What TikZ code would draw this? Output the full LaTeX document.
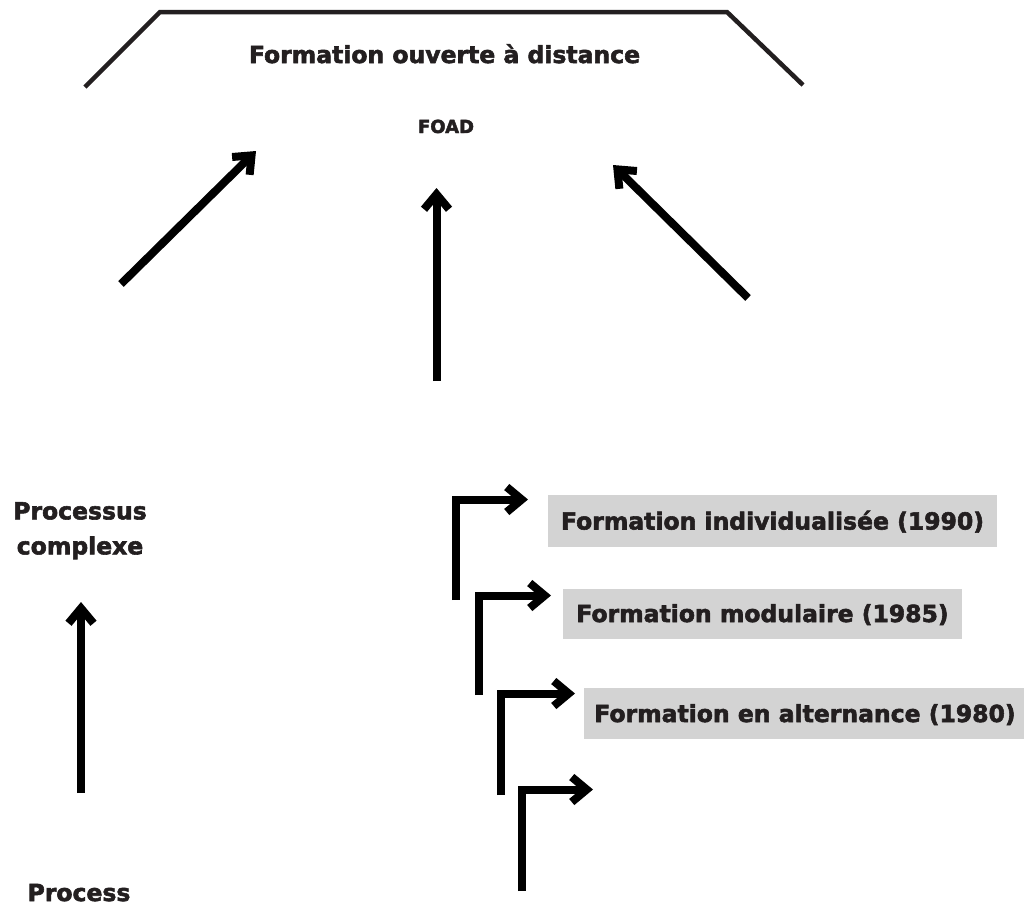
\documentclass[tikz,border=0pt]{standalone}
\usepackage{fontspec}
\setmainfont{DejaVu Sans}
\newfontfamily\heavyfont{DejaVu Sans Bold}[FakeBold=2.4]
\usetikzlibrary{arrows.meta}
\definecolor{ink}{HTML}{231F20}
\definecolor{boxgray}{HTML}{D3D3D3}
\begin{document}
\begin{tikzpicture}[x=1pt,y=-1pt,
  txt/.style={font=\fontsize{23.5}{35}\selectfont\heavyfont, text=ink, inner sep=0pt},
  small/.style={font=\fontsize{18}{20}\selectfont\heavyfont, text=ink, inner sep=0pt},
  arr/.style={line width=8pt, line join=miter, black,
    -{Straight Barb[length=15pt,width=25pt,line join=miter,line cap=butt]}},
  tag/.style={txt, fill=boxgray, text height=17pt, text depth=0pt},
  frame/.style={line width=4.5pt, ink, line join=miter}
]
\useasboundingbox (0,0) rectangle (1024,906);

% top frame
\coordinate (f1) at (85,87);
\coordinate (f2) at (160,12);
\coordinate (f3) at (727,12);
\coordinate (f4) at (803,85);
\draw[frame] (f1) -- (f2) -- (f3) -- (f4);

\node[txt, anchor=base] (title) at (444.5,63) {Formation ouverte à distance};
\node[small, anchor=base] (foad) at (446,133) {FOAD};

% three arrows to FOAD
\coordinate (a1s) at (121,284); \coordinate (a1e) at (256,151);
\coordinate (a2s) at (436.5,381); \coordinate (a2e) at (436.5,188);
\coordinate (a3s) at (748,298); \coordinate (a3e) at (613,165);
\draw[arr] (a1s) -- (a1e);
\draw[arr] (a2s) -- (a2e);
\draw[arr] (a3s) -- (a3e);

% left axis
\node[txt, align=center, anchor=north] (pc) at (80,502) {Processus\\complexe};
\node[txt, anchor=base] (proc) at (79,901) {Process};
\coordinate (ls) at (81,793); \coordinate (le) at (81,602);
\draw[arr] (ls) -- (le);

% boxes
\node[tag, minimum width=449pt, minimum height=52pt] (b1) at (772.5,521) {Formation individualisée (1990)};
\node[tag, minimum width=399pt, minimum height=50pt] (b2) at (762.5,613.5) {Formation modulaire (1985)};
\node[tag, minimum width=442pt, minimum height=51pt] (b3) at (805,713.5) {Formation en alternance (1980)};

% stepped arrows
\coordinate (s1) at (456,600);   \coordinate (t1) at (528,499.5);
\coordinate (s2) at (478.5,695); \coordinate (t2) at (551,595.5);
\coordinate (s3) at (500.5,795); \coordinate (t3) at (575,693.5);
\coordinate (s4) at (522,891);   \coordinate (t4) at (593,789.5);
\draw[arr] (s1) |- (t1);
\draw[arr] (s2) |- (t2);
\draw[arr] (s3) |- (t3);
\draw[arr] (s4) |- (t4);
\end{tikzpicture}
\end{document}
